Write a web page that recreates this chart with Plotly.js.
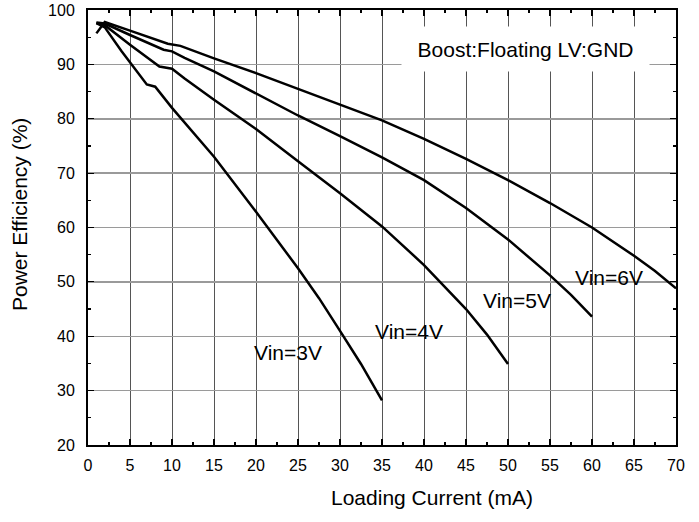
<!DOCTYPE html>
<html>
<head>
<meta charset="utf-8">
<script src="https://cdn.plot.ly/plotly-3.0.1.min.js"></script>
<style>html,body{margin:0;padding:0;background:#fff;}#chart{width:699px;height:522px;}</style>
</head>
<body>
<div id="chart"></div>
<script>
// Loading current (mA) and power efficiency (%) for each input voltage
var current3V = [1, 2, 4, 7, 8, 10, 15, 20, 25, 27.5, 30, 32.5, 35];
var eff3V     = [97.6, 96.8, 92.4, 86.3, 85.9, 82.0, 73.0, 62.9, 52.5, 47.0, 41.0, 34.9, 28.2];

var current4V = [1, 2, 5, 8.5, 10, 11.5, 15, 20, 25, 30, 35, 40, 45, 47.5, 50];
var eff4V     = [97.6, 97.2, 93.6, 89.6, 89.2, 87.4, 83.5, 78.1, 72.2, 66.3, 60.2, 53.1, 45.0, 40.3, 34.9];

var current5V = [1, 2, 5, 9, 10, 11.5, 15, 20, 25, 30, 35, 40, 45, 50, 55, 57.5, 60];
var eff5V     = [97.7, 97.5, 95.4, 92.7, 92.4, 91.2, 88.7, 84.7, 80.6, 76.8, 72.9, 68.7, 63.6, 57.8, 51.2, 47.6, 43.6];

var current6V = [1, 2, 5, 9.5, 11, 15, 20, 25, 30, 35, 40, 45, 50, 55, 60, 65, 67.5, 70];
var eff6V     = [95.7, 97.8, 96.2, 93.8, 93.4, 91.1, 88.4, 85.5, 82.6, 79.7, 76.3, 72.6, 68.7, 64.5, 60.0, 54.8, 52.0, 48.8];

var seriesNames = ["Vin=3V", "Vin=4V", "Vin=5V", "Vin=6V"];
var xTickVals = [0, 5, 10, 15, 20, 25, 30, 35, 40, 45, 50, 55, 60, 65, 70];
var yTickVals = [20, 30, 40, 50, 60, 70, 80, 90, 100];
var xTitle = "Loading Current (mA)";
var yTitle = "Power Efficiency (%)";
var boxText = "Boost:Floating LV:GND";

var xs = [current3V, current4V, current5V, current6V];
var ys = [eff3V, eff4V, eff5V, eff6V];
// label anchor points (data coords)
var labelX = [23.8, 38.2, 51.1, 62.0];
var labelY = [37.1, 40.9, 46.6, 50.8];

var traces = xs.map(function (x, i) {
  return {
    x: x, y: ys[i], name: seriesNames[i], type: "scatter", mode: "lines",
    line: { color: "#000", width: 2.5 },
    showlegend: false, hoverinfo: "x+y"
  };
});

var arial = "Liberation Sans, Arial, sans-serif";

var L = 88, R = 23, T = 10, B = 77, W = 699, H = 522;
var pw = W - L - R, ph = H - T - B;

var annotations = seriesNames.map(function (n, i) {
  return { x: labelX[i], y: labelY[i], xref: "x", yref: "y", text: n, showarrow: false,
           xanchor: "center", yanchor: "middle",
           font: { family: arial, size: 21, color: "#000" } };
});
annotations.push({
  x: 52.1, y: 92.8, xref: "x", yref: "y", text: boxText, showarrow: false,
  xanchor: "center", yanchor: "middle",
  bgcolor: "#fff", width: 245, height: 42,
  font: { family: arial, size: 21, color: "#000" }
});
annotations.push({
  x: (432 - L) / pw, y: -(497 - (H - B)) / ph, xref: "paper", yref: "paper",
  xanchor: "center", yanchor: "middle",
  text: xTitle, showarrow: false,
  font: { family: arial, size: 21, color: "#000" }
});
annotations.push({
  x: (19 - L) / pw, y: ((H - B) - 215) / ph, xref: "paper", yref: "paper",
  xanchor: "center", yanchor: "middle",
  text: yTitle, showarrow: false, textangle: -90,
  font: { family: arial, size: 21, color: "#000" }
});

var layout = {
  width: W, height: H,
  margin: { l: L, r: R, t: T, b: B, pad: 0 },
  paper_bgcolor: "#fff", plot_bgcolor: "#fff",
  showlegend: false,
  xaxis: {
    range: [0, 70], tickvals: xTickVals, ticktext: xTickVals.map(String),
    ticks: "inside", ticklen: 6, tickwidth: 1.2, tickcolor: "#000",
    minor: { dtick: 2.5, tick0: 0, ticks: "inside", ticklen: 3, tickcolor: "#000", showgrid: false },
    showgrid: true, gridcolor: "#555", gridwidth: 1,
    showline: true, linecolor: "#000", linewidth: 2, mirror: "allticks",
    zeroline: false, ticklabelstandoff: 5,
    tickfont: { family: arial, size: 16, color: "#000" }
  },
  yaxis: {
    range: [20, 100], tickvals: yTickVals, ticktext: yTickVals.map(String),
    ticks: "inside", ticklen: 6, tickwidth: 1.2, tickcolor: "#000",
    minor: { dtick: 5, tick0: 20, ticks: "inside", ticklen: 3, tickcolor: "#000", showgrid: false },
    showgrid: true, gridcolor: "#9a9a9a", gridwidth: 1.5,
    showline: true, linecolor: "#000", linewidth: 2, mirror: "allticks",
    zeroline: false, ticklabelstandoff: 8,
    tickfont: { family: arial, size: 16, color: "#000" }
  },
  annotations: annotations
};

Plotly.newPlot("chart", traces, layout, { staticPlot: true, displayModeBar: false });
</script>
</body>
</html>
